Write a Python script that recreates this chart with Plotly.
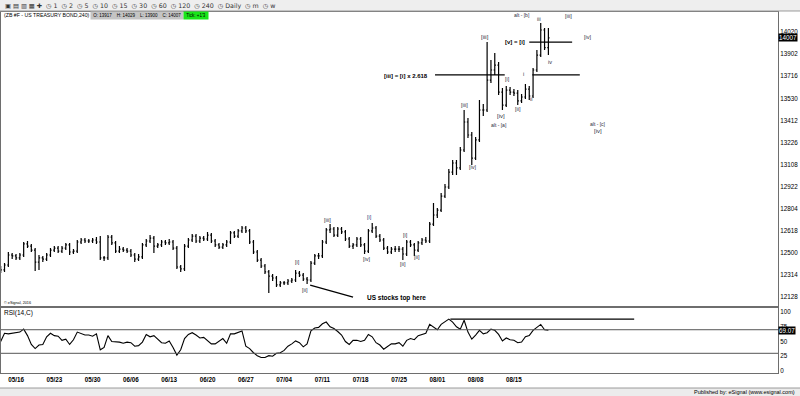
import plotly.graph_objects as go

# ---------------- data ----------------
open_ = [123.93, 123.79, 124.14, 124.85, 124.78, 124.64, 124.85, 125.63, 125.48, 125.20,
         124.35, 124.64, 124.56, 124.85, 125.20, 125.34, 125.13, 125.34, 125.56, 125.06,
         125.13, 125.77, 125.91, 125.84, 125.84, 125.91, 125.77, 124.64, 124.64, 126.12,
         125.70, 125.13, 125.27, 125.20, 125.13, 124.85, 124.56, 124.71, 125.56, 125.84,
         126.05, 125.48, 125.56, 125.77, 125.70, 125.77, 125.34, 124.00, 123.86, 125.48,
         125.91, 126.19, 125.84, 126.05, 125.98, 126.26, 125.84, 125.56, 125.41, 125.56,
         125.77, 126.41, 126.19, 126.55, 126.76, 126.55, 125.77, 125.06, 124.49, 124.07,
         123.65, 123.36, 123.22, 122.73, 122.87, 122.87, 123.01, 123.08, 123.57, 123.43,
         123.15, 123.08, 124.28, 124.78, 124.78, 125.77, 126.62, 126.69, 126.26, 126.69,
         126.48, 125.98, 125.48, 125.56, 125.98, 125.56, 125.13, 126.55, 126.76, 126.19,
         125.91, 125.34, 125.06, 125.27, 125.27, 125.27, 124.92, 125.77, 125.56, 125.20,
         125.70, 125.91, 125.84, 127.04, 127.68, 128.03, 129.02, 129.66, 130.72, 131.36,
         131.01, 132.28, 134.26, 133.34, 131.71, 132.99, 135.11, 135.11, 137.23, 137.94,
         138.29, 136.38, 135.46, 136.52, 136.38, 136.31, 135.75, 136.03, 136.59, 136.10,
         137.94, 139.00, 140.77, 139.53]

high = [124.07, 124.28, 125.06, 124.99, 124.92, 124.99, 125.77, 125.84, 125.63, 125.34,
        124.85, 124.78, 124.99, 125.34, 125.48, 125.48, 125.48, 125.70, 125.70, 125.27,
        125.91, 126.05, 126.05, 125.98, 126.05, 126.12, 126.19, 124.78, 126.26, 126.26,
        125.84, 125.48, 125.41, 125.34, 125.27, 124.99, 124.92, 125.70, 125.98, 126.26,
        126.19, 125.70, 125.91, 125.91, 125.98, 125.91, 125.48, 124.14, 125.63, 126.05,
        126.33, 126.33, 126.19, 126.19, 126.48, 126.41, 125.98, 125.70, 125.70, 125.91,
        126.55, 126.55, 126.69, 126.90, 126.90, 126.69, 125.91, 125.20, 124.64, 124.21,
        123.79, 123.50, 123.36, 123.01, 123.01, 123.15, 123.22, 123.79, 123.72, 123.57,
        123.29, 124.42, 124.92, 124.99, 125.91, 126.76, 127.04, 126.83, 126.83, 126.83,
        126.62, 126.12, 125.70, 126.12, 126.12, 125.70, 126.69, 127.11, 126.90, 126.33,
        126.05, 125.48, 125.41, 125.48, 125.48, 125.41, 125.91, 125.91, 125.70, 125.84,
        126.05, 126.12, 127.18, 128.53, 128.17, 129.24, 129.87, 130.93, 131.57, 131.57,
        132.49, 135.11, 134.54, 133.55, 133.20, 135.82, 135.53, 139.92, 138.65, 139.14,
        138.51, 136.67, 136.81, 136.74, 136.60, 136.52, 136.24, 136.95, 136.81, 138.08,
        139.36, 141.27, 140.91, 140.91]

low = [123.57, 123.65, 124.00, 124.56, 124.49, 124.49, 124.71, 125.34, 125.06, 123.72,
       123.79, 124.35, 124.42, 124.71, 125.06, 124.99, 124.99, 125.20, 124.85, 124.92,
       124.99, 125.63, 125.70, 125.70, 125.70, 125.63, 124.49, 124.42, 124.49, 125.56,
       124.99, 124.99, 125.06, 124.99, 124.71, 124.35, 124.42, 124.56, 125.41, 125.70,
       124.99, 125.34, 125.41, 125.56, 125.56, 125.20, 123.86, 123.65, 123.72, 125.34,
       125.77, 125.70, 125.70, 125.84, 125.84, 125.70, 125.41, 125.27, 125.27, 125.41,
       125.63, 126.05, 126.05, 126.41, 126.41, 125.63, 124.92, 124.35, 123.93, 123.50,
       122.16, 123.01, 122.58, 122.58, 122.73, 122.73, 122.87, 122.94, 123.29, 123.01,
       122.80, 122.94, 124.14, 124.56, 124.64, 125.63, 126.41, 126.12, 126.12, 126.33,
       125.84, 125.34, 125.27, 125.41, 125.41, 124.92, 124.99, 126.41, 126.05, 125.77,
       125.20, 124.92, 124.92, 125.06, 125.06, 124.49, 124.78, 125.41, 124.78, 125.06,
       125.56, 125.70, 125.70, 126.90, 127.47, 127.89, 128.88, 129.52, 130.51, 130.51,
       130.86, 132.14, 133.13, 131.22, 131.57, 132.85, 134.69, 134.97, 137.02, 137.59,
       136.17, 135.11, 135.32, 136.17, 136.10, 135.46, 135.61, 135.89, 135.82, 135.96,
       137.80, 138.86, 139.36, 139.00]

close = [123.79, 124.14, 124.85, 124.78, 124.64, 124.85, 125.63, 125.48, 125.20, 124.35,
         124.64, 124.56, 124.85, 125.20, 125.34, 125.13, 125.34, 125.56, 125.06, 125.13,
         125.77, 125.91, 125.84, 125.84, 125.91, 125.77, 124.64, 124.64, 126.12, 125.70,
         125.13, 125.27, 125.20, 125.13, 124.85, 124.56, 124.71, 125.56, 125.84, 126.05,
         125.48, 125.56, 125.77, 125.70, 125.77, 125.34, 124.00, 123.86, 125.48, 125.91,
         126.19, 125.84, 126.05, 125.98, 126.26, 125.84, 125.56, 125.41, 125.56, 125.77,
         126.41, 126.19, 126.55, 126.76, 126.55, 125.77, 125.06, 124.49, 124.07, 123.65,
         123.36, 123.22, 122.73, 122.87, 122.87, 123.01, 123.08, 123.57, 123.43, 123.15,
         123.08, 124.28, 124.78, 124.78, 125.77, 126.62, 126.69, 126.26, 126.69, 126.48,
         125.98, 125.48, 125.56, 125.98, 125.56, 125.13, 126.55, 126.76, 126.19, 125.91,
         125.34, 125.06, 125.27, 125.27, 125.27, 124.92, 125.77, 125.56, 125.20, 125.70,
         125.91, 125.84, 127.04, 127.68, 128.03, 129.02, 129.66, 130.72, 131.36, 131.01,
         132.28, 134.26, 133.34, 131.71, 132.99, 135.11, 135.11, 137.23, 137.94, 138.29,
         136.38, 135.46, 136.52, 136.38, 136.31, 135.75, 136.03, 136.59, 136.10, 137.94,
         139.00, 140.77, 139.53, 140.22]

rsi = [50, 64, 63, 64, 64, 66, 71, 60, 45, 38,
       44, 45, 58, 64, 60, 59, 52, 54, 45, 53,
       66, 64, 61, 61, 59, 63, 36, 40, 60, 50,
       50, 49, 47, 49, 48, 42, 43, 49, 62, 58,
       60, 54, 48, 47, 51, 40, 27, 36, 55, 62,
       65, 61, 56, 57, 51, 46, 46, 50, 55, 47,
       63, 63, 66, 68, 42, 38, 31, 26, 23, 23,
       26, 25, 30, 31, 35, 42, 46, 51, 48, 41,
       46, 68, 73, 74, 80, 83, 75, 72, 67, 61,
       50, 45, 52, 52, 50, 52, 62, 58, 48, 44,
       37, 41, 46, 46, 48, 42, 52, 55, 53, 60,
       62, 64, 79, 75, 70, 79, 84, 88, 83, 75,
       71, 86, 66, 54, 61, 69, 63, 65, 71, 69,
       62, 51, 56, 53, 52, 48, 49, 58, 60, 69,
       74, 79, 70, 69.07]

bar_index = list(range(len(close)))

date_labels = ["05/16", "05/23", "05/30", "06/06", "06/13", "06/20", "06/27",
               "07/04", "07/11", "07/18", "07/25", "08/01", "08/08", "08/15"]
date_bars = [4, 14, 24, 34, 44, 54, 64, 74, 84, 94, 104, 114, 124, 134]

price_ticks = ["12128", "12314", "12500", "12618", "12804", "12922", "13108",
               "13226", "13412", "13530", "13716", "13902", "14020"]
rsi_ticks = [0, 25, 50, 75, 100]

last_price_text = "14007"
last_rsi_text = "69.07"
rsi_resist = 88


def t32(s):
    return int(s[:-2]) + int(s[-2:]) / 32.0


price_tickvals = [t32(s) for s in price_ticks]
last_price = t32(last_price_text)

# ---------------- figure ----------------
FONT = "Liberation Sans, Arial, sans-serif"
fig = go.Figure()
fig.add_trace(go.Ohlc(
    x=bar_index, open=open_, high=high, low=low, close=close,
    increasing=dict(line=dict(color="black", width=1.2)),
    decreasing=dict(line=dict(color="black", width=1.2)),
    tickwidth=0.3, hoverinfo="skip", showlegend=False, xaxis="x", yaxis="y"))
fig.add_trace(go.Scatter(
    x=bar_index, y=rsi, mode="lines", line=dict(color="black", width=1.1),
    hoverinfo="skip", showlegend=False, xaxis="x2", yaxis="y2"))

xr = [0.08, 202.95]
axis_line = "#6e6e6e"
fig.update_layout(
    width=800, height=396, margin=dict(l=1, r=22, t=12, b=23),
    paper_bgcolor="white", plot_bgcolor="white", showlegend=False,
    font=dict(family=FONT, size=7, color="black"),
    xaxis=dict(domain=[0, 1], range=xr, anchor="y", showticklabels=False, showgrid=False,
               zeroline=False, showline=True, mirror=True, linecolor=axis_line, linewidth=1,
               rangeslider=dict(visible=False), fixedrange=True),
    yaxis=dict(domain=[0.1856, 1], range=[121.24, 142.045], side="right",
               tickvals=price_tickvals, ticktext=price_ticks, ticks="",
               tickfont=dict(size=6.3, family=FONT), showgrid=False, zeroline=False,
               showline=True, mirror=True, linecolor=axis_line, linewidth=1),
    xaxis2=dict(domain=[0, 1], range=xr, anchor="y2", tickvals=date_bars,
                ticktext=["<b>%s</b>" % d for d in date_labels], ticks="",
                tickfont=dict(size=6.3, family=FONT), showgrid=False, zeroline=False,
                showline=True, mirror=True, linecolor=axis_line, linewidth=1),
    yaxis2=dict(domain=[0, 0.18], range=[-3.4, 106.8], side="right", tickvals=rsi_ticks,
                ticks="", tickfont=dict(size=6.3, family=FONT), showgrid=False,
                zeroline=False, showline=True, mirror=True, linecolor=axis_line, linewidth=1),
)

shapes = []
# toolbar band and footer band
shapes.append(dict(type="rect", xref="paper", yref="paper", x0=-0.002, x1=1.03,
                   y0=1.0028, y1=1.04, fillcolor="#eeeeee", line=dict(width=0), layer="below"))
shapes.append(dict(type="line", xref="paper", yref="paper", x0=-0.002, x1=1.03,
                   y0=1.0028, y1=1.0028, line=dict(color="#9a9a9a", width=1)))
shapes.append(dict(type="rect", xref="paper", yref="paper", x0=-0.002, x1=1.03,
                   y0=-0.07, y1=-0.0416, fillcolor="#ececec",
                   line=dict(color="#9a9a9a", width=1), layer="below"))
# RSI 70/30 reference lines
for lv in (70, 30):
    shapes.append(dict(type="line", xref="x2 domain", yref="y2", x0=0, x1=1, y0=lv, y1=lv,
                       line=dict(color="#555555", width=1)))
# drawn lines
shapes.append(dict(type="line", xref="x", yref="y", x0=113.4, x1=131.6, y0=137.59, y1=137.59,
                   line=dict(color="black", width=1.2)))
shapes.append(dict(type="line", xref="x", yref="y", x0=138.8, x1=151.2, y0=137.59, y1=137.59,
                   line=dict(color="black", width=1.2)))
shapes.append(dict(type="line", xref="x", yref="y", x0=138.0, x1=149.2, y0=139.92, y1=139.92,
                   line=dict(color="black", width=1.2)))
shapes.append(dict(type="line", xref="x", yref="y", x0=80.8, x1=92.0, y0=122.72, y1=121.87,
                   line=dict(color="black", width=1.2)))
shapes.append(dict(type="line", xref="x2", yref="y2", x0=117.4, x1=165.4,
                   y0=rsi_resist, y1=rsi_resist, line=dict(color="black", width=1.2)))
fig.update_layout(shapes=shapes)

ann = []
LBL = "#2a2a3a"


def wave(x, y, t, size=5.5, color=LBL, bold=False):
    ann.append(dict(x=x, y=y, xref="x", yref="y", text=("<b>%s</b>" % t) if bold else t,
                    showarrow=False, font=dict(size=size, color=color, family=FONT)))


wave(77.4, 124.35, "[i]")
wave(79.4, 122.37, "[ii]")
wave(85.4, 127.32, "[iii]")
wave(95.6, 124.56, "[iv]")
wave(96.4, 127.54, "[i]", color="#1f3a7a")
wave(105.0, 124.21, "[ii]")
wave(105.8, 126.26, "[i]")
wave(108.6, 124.71, "[ii]")
wave(121.2, 135.46, "[iii]")
wave(123.4, 131.08, "[iv]")
wave(126.4, 140.30, "[iii]", size=6)
wave(130.6, 134.68, "[iv]", size=6)
wave(130.2, 134.02, "alt - [a]", size=5)
wave(132.4, 137.30, "[i]")
wave(135.0, 135.18, "[ii]")
wave(136.6, 137.66, "i")
wave(138.4, 135.89, "ii")
wave(140.6, 141.55, "iii")
wave(143.4, 138.51, "iv")
wave(136.2, 141.83, "alt - [b]", size=5)
wave(148.2, 141.76, "[iii]")
wave(153.4, 140.28, "[iv]")
wave(156.0, 134.12, "alt - [c]", size=5)
wave(156.0, 133.62, "[iv]", size=6)

ann.append(dict(x=137.4, y=139.92, xref="x", yref="y", xanchor="right", text="<b>[v] = [i]</b>",
                showarrow=False, font=dict(size=6, color="black", family=FONT)))
ann.append(dict(x=112.1, y=137.52, xref="x", yref="y", xanchor="right",
                text="<b>[iii] = [i] x 2.618</b>", showarrow=False,
                font=dict(size=6, color="black", family=FONT)))
ann.append(dict(x=95.1, y=121.80, xref="x", yref="y", xanchor="left",
                text="<b>US stocks top here</b>", showarrow=False,
                font=dict(size=6.5, color="black", family=FONT)))

# last value boxes
ann.append(dict(x=1.0, y=last_price, xref="paper", yref="y", xanchor="left", text=last_price_text,
                showarrow=False, bgcolor="black", borderpad=0,
                font=dict(size=6.3, color="white", family=FONT)))
ann.append(dict(x=1.0, y=69.07, xref="paper", yref="y2", xanchor="left", text=last_rsi_text,
                showarrow=False, bgcolor="black", borderpad=0,
                font=dict(size=6.3, color="white", family=FONT)))


def ptext(xpx, ypx, text, size, anchor="left", **kw):
    ann.append(dict(x=(xpx - 1) / 777.0, y=(373 - ypx) / 361.0, xref="paper", yref="paper",
                    xanchor=anchor, yanchor="middle", text=text, showarrow=False,
                    font=dict(size=size, color=kw.pop("color", "black"),
                              family=kw.pop("family", FONT)), **kw))


SP = "&nbsp;" * 4
# header / panel texts
ptext(2, 15, "(ZB #F - US TREASURY BOND,240)", 5.2)
ptext(90, 15, "&nbsp;O: 13917" + SP + "H: 14029" + SP + "L: 13900" + SP + "C: 14007&nbsp;", 4.5,
      bgcolor="#c4c4c4", borderpad=1)
ptext(183, 15, "&nbsp;Tick: +1'3&nbsp;", 4.5, bgcolor="#19e619", borderpad=1)
ptext(3, 6, "\u25a3 \u25a4 \u25a5 \u25a6 \u271a  \u25f7 1  \u25f7 2  \u25f7 5  \u25f7 10  \u25f7 15  "
            "\u25f7 30  \u25f7 60  \u25f7 120  \u25f7 240  \u25f7 Daily  \u25f7 m  \u25f7 w",
      6.3, color="#333333", family="DejaVu Sans")
ptext(2, 303, "\u00a9 eSignal, 2016", 3.8)
ptext(2, 313, "RSI(14,C)", 6.5)
ptext(797, 392, "Published by: eSignal (www.esignal.com)", 5.5, anchor="right")
fig.update_layout(annotations=ann)

fig.write_html("out.html", config={"displayModeBar": False, "staticPlot": True},
               post_script="document.body.style.margin='0px';document.body.style.overflow='hidden';")
